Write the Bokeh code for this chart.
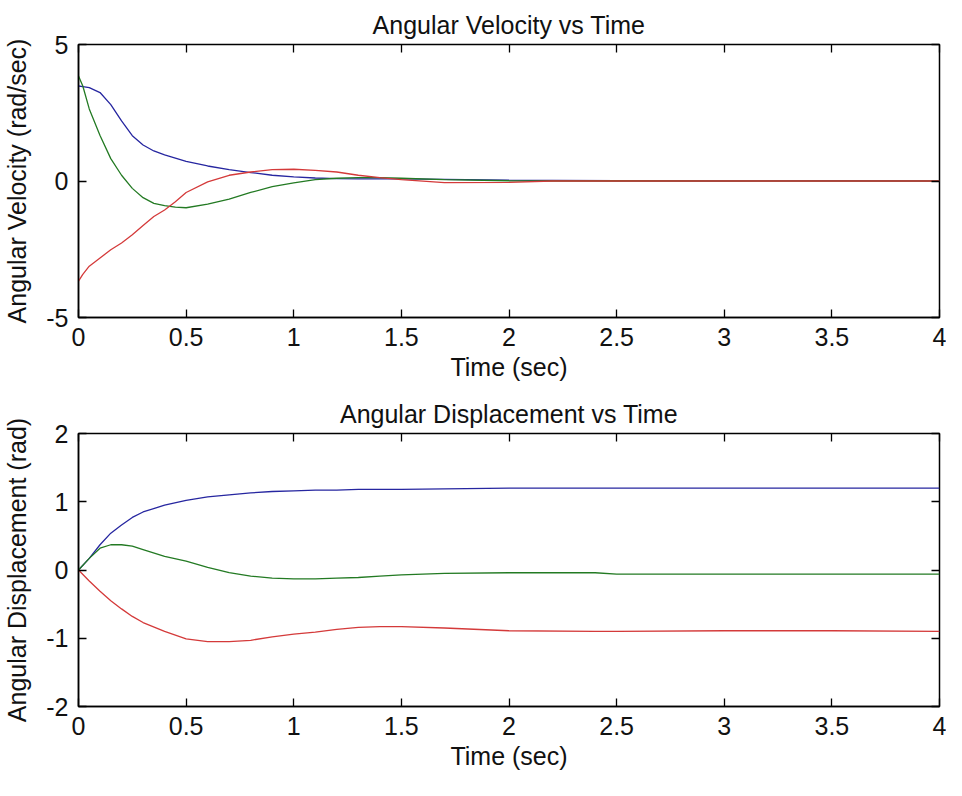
from bokeh.plotting import figure
from bokeh.models import LinearAxis, FixedTicker, Range1d
from bokeh.layouts import column
from bokeh.embed import file_html
from bokeh.resources import INLINE

# ---------------- data ----------------
t_vel = [0, 0.02, 0.05, 0.1, 0.15, 0.2, 0.25, 0.3, 0.35, 0.4, 0.45, 0.5, 0.6, 0.7,
         0.8, 0.9, 1.0, 1.1, 1.2, 1.3, 1.4, 1.5, 1.7, 2.0, 2.2, 2.5, 3.0, 3.5, 4.0]
vel_blue = [3.48, 3.46, 3.42, 3.24, 2.80, 2.20, 1.66, 1.32, 1.10, 0.96, 0.84, 0.72, 0.55, 0.42,
            0.31, 0.21, 0.15, 0.11, 0.09, 0.08, 0.08, 0.08, 0.06, 0.03, 0.02, 0.01, 0.0, 0.01, 0.0]
vel_green = [3.85, 3.48, 2.64, 1.67, 0.82, 0.21, -0.27, -0.61, -0.82, -0.90, -0.96, -0.98, -0.85, -0.66,
             -0.42, -0.21, -0.07, 0.05, 0.10, 0.12, 0.12, 0.10, 0.05, 0.01, 0.0, 0.01, 0.0, 0.0, 0.0]
vel_red = [-3.67, -3.42, -3.12, -2.82, -2.52, -2.27, -1.97, -1.63, -1.30, -1.06, -0.76, -0.42, -0.03, 0.21,
           0.33, 0.42, 0.43, 0.39, 0.33, 0.21, 0.12, 0.05, -0.06, -0.05, 0.0, 0.0, 0.0, 0.0, 0.0]

t_disp = [0, 0.05, 0.1, 0.15, 0.2, 0.25, 0.3, 0.4, 0.5, 0.6, 0.7, 0.8, 0.9, 1.0,
          1.1, 1.2, 1.3, 1.4, 1.5, 1.7, 2.0, 2.4, 2.5, 3.0, 3.5, 4.0]
disp_blue = [0, 0.17, 0.37, 0.54, 0.66, 0.77, 0.85, 0.95, 1.02, 1.07, 1.10, 1.13, 1.15, 1.16,
             1.17, 1.17, 1.18, 1.18, 1.18, 1.19, 1.20, 1.20, 1.20, 1.20, 1.20, 1.20]
disp_green = [0, 0.17, 0.32, 0.37, 0.37, 0.35, 0.30, 0.20, 0.13, 0.04, -0.04, -0.09, -0.12, -0.13,
              -0.13, -0.12, -0.11, -0.09, -0.07, -0.05, -0.04, -0.04, -0.06, -0.06, -0.06, -0.06]
disp_red = [0, -0.16, -0.31, -0.45, -0.57, -0.68, -0.77, -0.90, -1.01, -1.05, -1.05, -1.03, -0.98, -0.94,
            -0.91, -0.87, -0.84, -0.83, -0.83, -0.85, -0.89, -0.90, -0.90, -0.89, -0.89, -0.90]

x_ticks = [0, 0.5, 1, 1.5, 2, 2.5, 3, 3.5, 4]
x_tick_labels = ["0", "0.5", "1", "1.5", "2", "2.5", "3", "3.5", "4"]
vel_ticks = [-5, 0, 5]
vel_tick_labels = ["-5", "0", "5"]
disp_ticks = [-2, -1, 0, 1, 2]
disp_tick_labels = ["-2", "-1", "0", "1", "2"]

FONT = "Liberation Sans"
FS = "25px"
TXT = "#111111"
COLORS = ["#2626a0", "#237a23", "#d43a3a"]
TICK_LEN = 8


def tick_only_axis(ticks):
    # an unlabelled axis that only draws inward ticks (MATLAB "box on" style)
    return LinearAxis(ticker=FixedTicker(ticks=ticks, minor_ticks=[]),
                      major_label_text_font_size="1px", major_label_text_color=None,
                      major_label_standoff=0,
                      major_tick_in=TICK_LEN, major_tick_out=0,
                      minor_tick_in=0, minor_tick_out=0,
                      major_tick_line_color="black", major_tick_line_width=1.3,
                      axis_line_color=None)


def make_plot(title, ylabel, t, series, yticks, ylabels, yrange, height, top, bottom):
    p = figure(width=946, height=height, output_backend="svg", toolbar_location=None,
               x_range=Range1d(0, 4), y_range=Range1d(*yrange),
               min_border_left=76, min_border_right=7,
               min_border_top=top, min_border_bottom=bottom,
               x_axis_label="Time (sec)", y_axis_label=ylabel)
    p.title.text = title
    p.title.align = "center"
    p.title.text_font = FONT
    p.title.text_font_size = FS
    p.title.text_font_style = "normal"
    p.title.text_color = TXT
    p.title.standoff = 12
    p.grid.visible = False
    p.outline_line_color = "black"
    p.outline_line_width = 1.5
    p.background_fill_color = "white"
    p.border_fill_color = "white"

    for ys, c in zip(series, COLORS):
        p.line(t, ys, line_color=c, line_width=1.3)

    xover = {v: s for v, s in zip(x_ticks, x_tick_labels)}
    yover = {v: s for v, s in zip(yticks, ylabels)}
    for ax in p.xaxis:
        ax.ticker = FixedTicker(ticks=x_ticks, minor_ticks=[])
        ax.major_label_overrides = xover
        ax.major_label_standoff = 10
        ax.axis_label_standoff = 4
    for ax in p.yaxis:
        ax.ticker = FixedTicker(ticks=yticks, minor_ticks=[])
        ax.major_label_overrides = yover
        ax.major_label_standoff = 10
        ax.axis_label_standoff = 12
    for ax in list(p.xaxis) + list(p.yaxis):
        ax.major_tick_in = TICK_LEN
        ax.major_tick_out = 0
        ax.minor_tick_in = 0
        ax.minor_tick_out = 0
        ax.major_tick_line_color = "black"
        ax.major_tick_line_width = 1.3
        ax.axis_line_color = "black"
        ax.axis_line_width = 1.5
        ax.major_label_text_font = FONT
        ax.major_label_text_font_size = FS
        ax.major_label_text_color = TXT
        ax.axis_label_text_font = FONT
        ax.axis_label_text_font_size = FS
        ax.axis_label_text_font_style = "normal"
        ax.axis_label_text_color = TXT

    p.add_layout(tick_only_axis(x_ticks), "above")
    p.add_layout(tick_only_axis(yticks), "right")
    return p


p1 = make_plot("Angular Velocity vs Time", "Angular Velocity (rad/sec)", t_vel,
               [vel_blue, vel_green, vel_red], vel_ticks, vel_tick_labels, (-5, 5),
               height=387, top=44, bottom=70)
p2 = make_plot("Angular Displacement vs Time", "Angular Displacement (rad)", t_disp,
               [disp_blue, disp_green, disp_red], disp_ticks, disp_tick_labels, (-2, 2),
               height=389, top=46, bottom=70)

layout = column(p1, p2, spacing=0)
open("out.html", "w").write(file_html(layout, INLINE))
